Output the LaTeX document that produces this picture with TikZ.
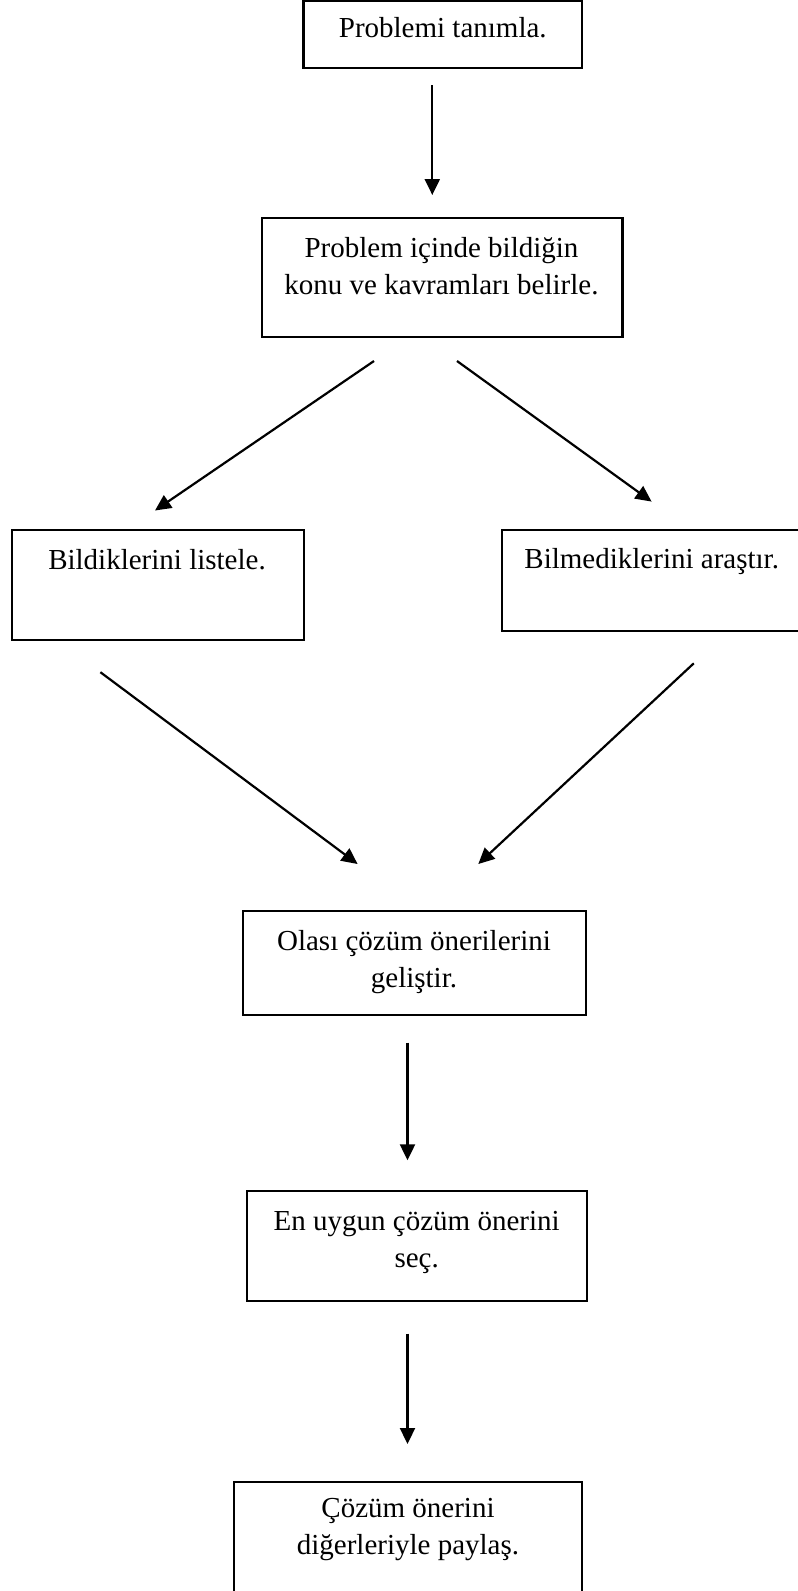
\documentclass[tikz,border=0pt]{standalone}
\usepackage{fontspec}
\setmainfont{Liberation Serif}
\usetikzlibrary{arrows.meta}
\begin{document}
\begin{tikzpicture}[x=1pt,y=-1pt,
  box/.style={draw=black,line width=2.2pt,inner sep=0pt,rectangle},
  txt/.style={font=\fontsize{29}{36.5}\selectfont,align=center,inner sep=0pt,anchor=base},
  arr/.style={line width=2.2pt,-{Triangle[length=16pt,width=15pt]}}]
\useasboundingbox (0,0) rectangle (798,1591);
% boxes
\node[box,minimum width=278.5pt,minimum height=67pt] (b1) at (442.75,34.5) {};
\node[box,minimum width=360.8pt,minimum height=119pt] (b2) at (442.1,277.5) {};
\node[box,minimum width=292.3pt,minimum height=110pt] (b3) at (157.85,585) {};
\node[box,minimum width=300.3pt,minimum height=100.7pt] (b4) at (651.85,580.35) {};
\node[box,minimum width=342.7pt,minimum height=104pt] (b5) at (414.65,963) {};
\node[box,minimum width=340pt,minimum height=110pt] (b6) at (416.7,1246) {};
\node[box,minimum width=347.7pt,minimum height=118.3pt] (b7) at (407.85,1540.85) {};
% texts (anchor base = baseline of the last line)
\node[txt] (t1) at (442.8,37.3) {Problemi tanımla.};
\node[txt] (t2) at (441.5,294) {Problem içinde bildiğin\\konu ve kavramları belirle.};
\node[txt] (t3) at (157,569.3) {Bildiklerini listele.};
\node[txt] (t4) at (651.7,568.3) {Bilmediklerini araştır.};
\node[txt] (t5) at (414,987) {Olası çözüm önerilerini\\geliştir.};
\node[txt] (t6) at (416.7,1267) {En uygun çözüm önerini\\seç.};
\node[txt] (t7) at (408,1554) {Çözüm önerini\\diğerleriyle paylaş.};
% arrow end points
\coordinate (a1s) at (432.3,85);
\coordinate (a1e) at (432.3,195);
\coordinate (a2s) at (374,361);
\coordinate (a2e) at (155,510.5);
\coordinate (a3s) at (457,361);
\coordinate (a3e) at (651.6,501.6);
\coordinate (a4s) at (100.4,672.2);
\coordinate (a4e) at (357.6,864);
\coordinate (a5s) at (693.8,663.3);
\coordinate (a5e) at (478.3,864);
\coordinate (a6s) at (407.5,1042.7);
\coordinate (a6e) at (407.5,1160.3);
\coordinate (a7s) at (407.5,1333.5);
\coordinate (a7e) at (407.5,1444);
\draw[arr] (a1s) -- (a1e);
\draw[arr] (a2s) -- (a2e);
\draw[arr] (a3s) -- (a3e);
\draw[arr] (a4s) -- (a4e);
\draw[arr] (a5s) -- (a5e);
\draw[arr] (a6s) -- (a6e);
\draw[arr] (a7s) -- (a7e);
\end{tikzpicture}
\end{document}
